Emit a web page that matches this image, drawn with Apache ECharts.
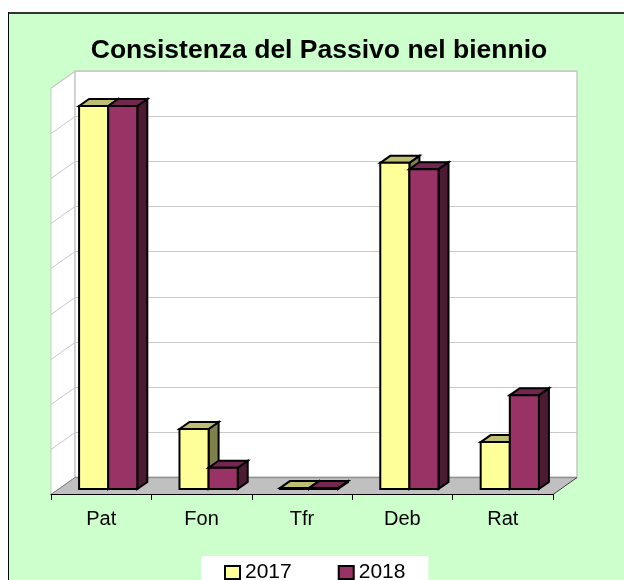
<!DOCTYPE html>
<html><head><meta charset="utf-8">
<style>html,body{margin:0;padding:0;background:#fff}#c{width:624px;height:580px}</style>
<script src="https://cdn.jsdelivr.net/npm/echarts@6/dist/echarts.min.js"></script>
</head><body><div id="c"></div>
<script>
const categories = ['Pat','Fon','Tfr','Deb','Rat'];
const values2017 = [8.49,1.33,0.02,7.23,1.04];
const values2018 = [8.49,0.47,0.02,7.09,2.08];
const gridTicks = [0,1,2,3,4,5,6,7,8,9];
const wall = {dx:24,dy:-17};
const plane = {dx:7,dy:-5};
const depth = {dx:10,dy:-7};
const barW = 0.29;
const fonts = '"Liberation Sans", Arial, sans-serif';
const pal = {
  '2017':{front:'#FFFF99',top:'#BFBF73',side:'#80804D'},
  '2018':{front:'#993366',top:'#732650',side:'#4D1A33'}
};
const stroke = {stroke:'#000',lineWidth:2,lineJoin:'miter'};
function poly(pts,fill){return {type:'polygon',shape:{points:pts},style:Object.assign({fill},stroke)};}
function barRender(name,slot){
  return function(params,api){
    const i=api.value(0), v=api.value(1);
    const base=api.coord([i,0]), top=api.coord([i,v]);
    const band=api.size([1,0])[0], w=band*barW;
    const x0=base[0]+plane.dx+(slot===0?-w:0), x1=x0+w;
    const yb=base[1]+plane.dy, yt=top[1]+plane.dy;
    const d=depth, c=pal[name];
    return {type:'group',children:[
      poly([[x1,yb],[x1+d.dx,yb+d.dy],[x1+d.dx,yt+d.dy],[x1,yt]],c.side),
      poly([[x0,yt],[x0+d.dx,yt+d.dy],[x1+d.dx,yt+d.dy],[x1,yt]],c.top),
      poly([[x0,yb],[x1,yb],[x1,yt],[x0,yt]],c.front)
    ]};
  };
}
function wallRender(params,api){
  const t=api.value(0), n=categories.length;
  const l=api.coord([0,t]), band=api.size([1,0])[0];
  const x0=l[0]-band/2, x1=x0+band*n, y=Math.round(l[1])+0.5;
  const gray={stroke:'#C8C8C8',lineWidth:1,fill:null};
  const kids=[];
  if(params.dataIndex===0){
    const top=Math.round(api.coord([0,gridTicks[gridTicks.length-1]])[1]);
    kids.push({type:'polygon',shape:{points:[[x0,y],[x0+wall.dx,y+wall.dy],[x0+wall.dx,top+wall.dy],[x0,top]]},style:{fill:'#fff',stroke:'#C8C8C8',lineWidth:1}});
    kids.push({type:'rect',shape:{x:x0+wall.dx,y:top+wall.dy,width:band*n,height:y-top},style:{fill:'#fff',stroke:'#C8C8C8',lineWidth:1.5}});
    kids.push({type:'polygon',shape:{points:[[x0,y],[x0+wall.dx,y+wall.dy],[x1+wall.dx,y+wall.dy],[x1,y]]},style:{fill:'#C0C0C0'}});
    kids.push({type:'line',shape:{x1:x0+wall.dx,y1:y+wall.dy,x2:x1+wall.dx,y2:y+wall.dy},style:{stroke:'#909090',lineWidth:1.5}});
    kids.push({type:'line',shape:{x1:x1,y1:y,x2:x1+wall.dx,y2:y+wall.dy},style:{stroke:'#404040',lineWidth:1}});
    kids.push({type:'line',shape:{x1:x0,y1:y,x2:x0+wall.dx,y2:y+wall.dy},style:{stroke:'#808080',lineWidth:1}});
  } else {
    kids.push({type:'polyline',shape:{points:[[x0,y],[x0+wall.dx,y+wall.dy],[x1+wall.dx,y+wall.dy]]},style:gray});
  }
  return {type:'group',children:kids};
}
const chart=echarts.init(document.getElementById('c'),null,{renderer:'canvas'});
chart.setOption({
  animation:false,
  backgroundColor:'#fff',
  graphic:[
    {type:'rect',z:-10,shape:{x:9,y:14,width:615,height:566},style:{fill:'#CCFFCC'}},
    {type:'rect',z:-10,shape:{x:8,y:12,width:616,height:2},style:{fill:'#333'}},
    {type:'rect',z:-10,shape:{x:8,y:12,width:1,height:568},style:{fill:'#000'}}
  ],
  title:{text:'Consistenza del Passivo nel biennio',left:314,top:32,textAlign:'center',
    textStyle:{fontFamily:fonts,fontSize:26.5,fontWeight:'bold',color:'#000'}},
  grid:{left:51,top:88,width:502,height:406,containLabel:false},
  xAxis:{type:'category',data:categories,z:6,boundaryGap:true,
    axisLine:{lineStyle:{color:'#000',width:1}},
    axisTick:{show:true,length:6,lineStyle:{color:'#000'}},
    axisLabel:{color:'#000',fontFamily:fonts,fontSize:20,margin:15},
    splitLine:{show:false}},
  yAxis:{type:'value',min:0,max:9,interval:1,axisLine:{show:false},axisTick:{show:false},axisLabel:{show:false},splitLine:{show:false}},
  legend:{data:['2017','2018'],left:201,top:556,orient:'horizontal',
    backgroundColor:'#fff',padding:[6,23,6,23],itemGap:46,itemWidth:15,itemHeight:13,
    icon:'rect',
    textStyle:{fontFamily:fonts,fontSize:21,color:'#000'},
    itemStyle:{borderColor:'#000',borderWidth:2}},
  tooltip:{show:false},
  series:[
    {type:'custom',name:'walls',z:1,silent:true,clip:false,renderItem:wallRender,data:gridTicks.map(t=>[t]),encode:{y:0}},
    {type:'custom',name:'2017',z:3,clip:false,renderItem:barRender('2017',0),
      itemStyle:{color:pal['2017'].front,borderColor:'#000',borderWidth:2},
      data:values2017.map((v,i)=>[i,v]),encode:{x:0,y:1}},
    {type:'custom',name:'2018',z:4,clip:false,renderItem:barRender('2018',1),
      itemStyle:{color:pal['2018'].front,borderColor:'#000',borderWidth:2},
      data:values2018.map((v,i)=>[i,v]),encode:{x:0,y:1}}
  ]
});
</script></body></html>
